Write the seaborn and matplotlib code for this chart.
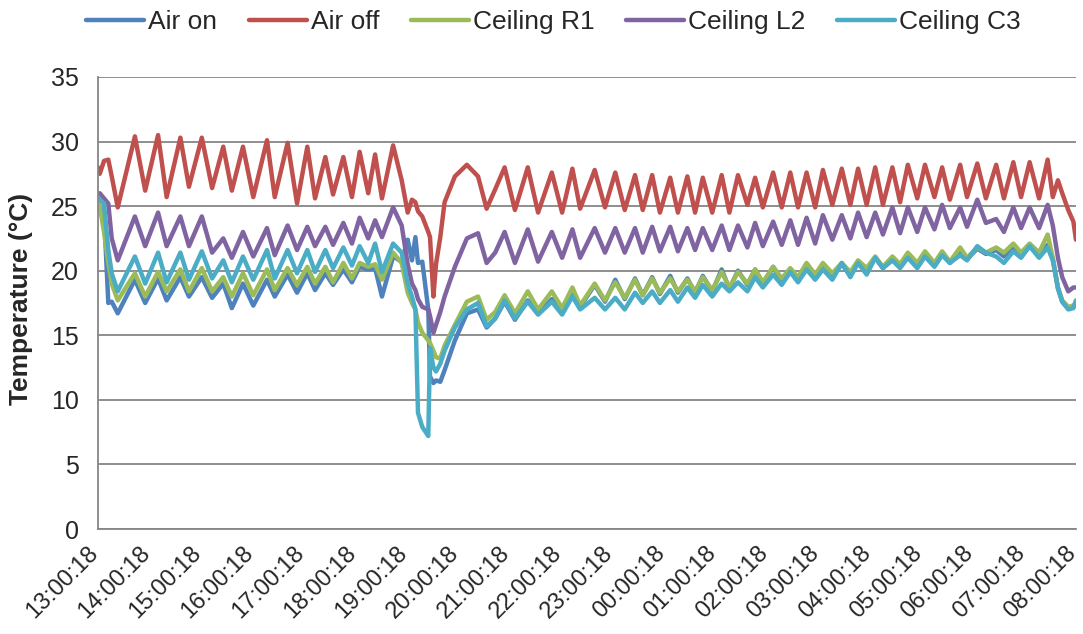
import pandas as pd
import matplotlib
matplotlib.use("Agg")
import matplotlib.pyplot as plt
import matplotlib.dates as mdates
import matplotlib.transforms as mtrans
import seaborn as sns

sns.set_style("white")
plt.rcParams['font.family'] = ['Liberation Sans', 'DejaVu Sans']

# minutes after 13:00:18 (shared by all loggers)
minutes = [0, 2, 7, 12, 16, 23, 43, 55, 70, 80,
           96, 106, 121, 133, 146, 156, 169, 181, 197, 206,
           221, 232, 244, 253, 265, 274, 286, 296, 305, 315,
           323, 331, 344, 354, 361, 366, 370, 373, 378, 385,
           387, 391, 394, 399, 404, 416, 430, 443, 453, 463,
           474, 486, 501, 513, 529, 541, 553, 562, 579, 591,
           603, 614, 626, 635, 646, 655, 667, 676, 687, 696,
           705, 716, 727, 736, 746, 757, 766, 775, 787, 797,
           807, 816, 826, 836, 845, 856, 867, 877, 886, 896,
           906, 915, 926, 935, 944, 955, 964, 975, 984, 993,
           1005, 1013, 1025, 1035, 1047, 1056, 1067, 1076, 1086, 1097,
           1107, 1113, 1119, 1124, 1131, 1137, 1140]

air_on = [24.7, 25.0, 24.5, 17.5, 17.6, 16.7, 19.3, 17.5, 19.4, 17.7,
          19.5, 18.0, 19.5, 17.9, 19.0, 17.1, 19.0, 17.3, 19.3, 18.0,
          19.7, 18.3, 19.8, 18.5, 19.8, 18.9, 20.1, 19.1, 20.3, 20.1,
          20.2, 18.0, 21.1, 20.7, 22.4, 20.8, 22.6, 20.6, 20.7, 17.0,
          11.8, 11.3, 11.5, 11.4, 12.3, 14.6, 16.7, 17.0, 15.6, 16.3,
          17.6, 16.2, 17.7, 16.7, 17.8, 16.8, 18.4, 17.2, 18.9, 17.6,
          19.3, 17.8, 19.4, 18.1, 19.5, 18.2, 19.6, 18.3, 19.4, 18.3,
          19.6, 18.4, 20.1, 18.6, 20.0, 18.9, 20.1, 19.0, 20.3, 19.2,
          20.1, 19.3, 20.4, 19.5, 20.5, 19.6, 20.5, 19.7, 20.7, 20.0,
          21.0, 20.2, 21.0, 20.3, 21.2, 20.4, 21.3, 20.5, 21.4, 20.6,
          21.6, 20.9, 21.7, 21.3, 21.6, 21.1, 21.8, 21.2, 21.9, 21.2,
          22.0, 20.9, 18.6, 17.6, 17.1, 17.2, 17.6]

air_off = [28.0, 27.5, 28.5, 28.6, 27.3, 24.9, 30.4, 26.2, 30.5, 25.7,
           30.3, 26.5, 30.3, 26.4, 29.6, 26.2, 29.6, 25.7, 30.1, 25.7,
           29.9, 25.2, 29.6, 25.6, 28.8, 25.9, 28.8, 25.7, 29.2, 26.0,
           29.0, 25.6, 29.7, 27.0, 24.5, 25.5, 25.3, 24.6, 24.2, 23.0,
           22.6, 18.0, 20.5, 22.6, 25.3, 27.3, 28.2, 27.3, 24.8, 26.3,
           28.0, 24.7, 28.0, 24.5, 27.6, 24.5, 27.9, 24.8, 27.8, 24.9,
           27.6, 24.7, 27.4, 24.7, 27.4, 24.5, 27.2, 24.5, 27.3, 24.5,
           27.2, 24.5, 27.4, 24.5, 27.4, 25.1, 27.2, 24.9, 27.6, 24.9,
           27.6, 24.9, 27.6, 24.9, 27.8, 25.1, 27.9, 25.1, 27.9, 25.1,
           28.0, 25.1, 28.0, 25.3, 28.2, 25.6, 28.2, 25.7, 28.0, 25.5,
           28.2, 25.7, 28.3, 25.6, 28.2, 25.6, 28.4, 25.7, 28.4, 25.6,
           28.6, 25.7, 27.0, 26.0, 24.7, 23.8, 22.4]

ceiling_r1 = [25.5, 25.0, 23.0, 20.6, 19.0, 17.7, 19.8, 18.0, 19.9, 18.4,
              20.1, 18.4, 20.2, 18.4, 19.5, 18.0, 19.8, 18.1, 20.1, 18.5,
              20.2, 18.9, 20.3, 19.0, 20.3, 19.1, 20.6, 19.4, 20.6, 20.3,
              20.5, 19.3, 21.4, 20.6, 18.3, 17.5, 17.0, 16.0, 15.2, 14.6,
              14.4, 13.8, 13.3, 13.2, 14.2, 15.8, 17.6, 18.0, 16.2, 16.8,
              18.1, 16.7, 18.4, 17.0, 18.4, 17.1, 18.7, 17.3, 19.0, 17.7,
              19.1, 17.9, 19.3, 18.1, 19.4, 18.3, 19.4, 18.4, 19.3, 18.4,
              19.5, 18.5, 19.9, 18.7, 19.9, 19.0, 20.1, 19.1, 20.3, 19.4,
              20.2, 19.5, 20.6, 19.7, 20.6, 19.8, 20.6, 19.9, 20.8, 20.2,
              21.1, 20.3, 21.1, 20.5, 21.4, 20.6, 21.5, 20.6, 21.5, 20.7,
              21.8, 21.0, 21.8, 21.4, 21.8, 21.4, 22.1, 21.4, 22.1, 21.4,
              22.8, 21.0, 18.7, 17.7, 17.2, 17.3, 17.5]

ceiling_l2 = [25.8, 26.0, 25.6, 25.2, 22.5, 20.8, 24.2, 21.9, 24.5, 21.9,
              24.2, 21.9, 24.2, 21.4, 22.5, 21.0, 23.0, 21.1, 23.3, 21.2,
              23.5, 21.6, 23.4, 21.9, 23.4, 22.0, 23.7, 22.1, 24.1, 22.5,
              23.9, 22.6, 24.9, 23.5, 20.5, 19.0, 18.5, 17.8, 17.2, 17.0,
              16.5, 15.2, 15.8, 16.8, 18.0, 20.3, 22.5, 22.9, 20.6, 21.4,
              23.0, 20.6, 23.2, 20.7, 23.0, 21.0, 23.2, 21.0, 23.3, 21.4,
              23.3, 21.4, 23.3, 21.4, 23.4, 21.5, 23.4, 21.5, 23.3, 21.6,
              23.3, 21.6, 23.5, 21.6, 23.5, 21.8, 23.7, 21.9, 23.8, 22.0,
              23.9, 22.0, 24.1, 22.1, 24.3, 22.4, 24.3, 22.5, 24.5, 22.6,
              24.5, 22.8, 24.9, 22.9, 24.9, 23.0, 24.9, 23.2, 25.1, 23.3,
              24.9, 23.4, 25.5, 23.7, 24.0, 23.0, 24.9, 23.3, 24.9, 23.3,
              25.1, 23.5, 21.0, 19.5, 18.4, 18.7, 18.7]

ceiling_c3 = [25.7, 25.5, 25.2, 21.6, 19.8, 18.4, 21.1, 19.0, 21.4, 19.1,
              21.4, 19.3, 21.5, 19.4, 20.8, 19.1, 21.1, 19.3, 21.6, 19.4,
              21.6, 19.8, 21.6, 19.9, 21.6, 20.2, 21.8, 20.4, 21.9, 20.6,
              22.1, 19.9, 22.1, 21.4, 19.0, 18.0, 17.0, 9.0, 7.9, 7.2,
              14.0, 12.5, 12.2, 12.8, 13.8, 15.6, 17.0, 17.5, 15.7, 16.3,
              17.7, 16.3, 17.6, 16.6, 17.6, 16.6, 18.0, 17.0, 17.9, 17.0,
              17.9, 17.0, 18.3, 17.5, 18.4, 17.5, 18.5, 17.6, 18.7, 17.9,
              18.9, 18.0, 19.0, 18.4, 19.1, 18.4, 19.5, 18.7, 19.7, 18.9,
              19.9, 19.1, 20.1, 19.3, 20.1, 19.3, 20.6, 19.5, 20.6, 19.7,
              21.0, 20.2, 20.8, 20.2, 21.0, 20.2, 21.1, 20.3, 21.2, 20.6,
              21.2, 20.8, 21.9, 21.4, 21.1, 20.6, 21.5, 21.0, 21.9, 21.0,
              21.8, 20.8, 18.7, 17.6, 17.0, 17.1, 17.7]

series_names = ["Air on", "Air off", "Ceiling R1", "Ceiling L2", "Ceiling C3"]
colors = ["#4F81BD", "#C0504D", "#9BBB59", "#8064A2", "#4BACC6"]

start = pd.Timestamp("2013-06-01 13:00:18")
times = start + pd.to_timedelta(minutes, unit="min")

frames = []
for name, vals in zip(series_names, [air_on, air_off, ceiling_r1, ceiling_l2, ceiling_c3]):
    frames.append(pd.DataFrame({"time": times, "temp": vals, "sensor": name}))
df = pd.concat(frames, ignore_index=True)

fig = plt.figure(figsize=(10.83, 6.34), dpi=100)
ax = fig.add_axes([0.0905, 0.1656, 0.903, 0.713])

sns.lineplot(data=df, x="time", y="temp", hue="sensor", hue_order=series_names,
             palette=colors, estimator=None, linewidth=3.2, ax=ax)

ax.set_ylim(0, 35)
ax.set_yticks(range(0, 36, 5))
ax.set_xlim(start, start + pd.Timedelta(hours=19))
ax.set_xticks(pd.date_range(start, periods=20, freq="h"))
ax.xaxis.set_major_formatter(mdates.DateFormatter("%H:%M:%S"))

ax.grid(axis="y", color="#868686", linewidth=1.3)
ax.grid(axis="x", visible=False)
for side in ["top", "right"]:
    ax.spines[side].set_visible(False)
for side in ["left", "bottom"]:
    ax.spines[side].set_color("#868686")
    ax.spines[side].set_linewidth(1.3)

ax.tick_params(axis="both", which="major", direction="out", length=6,
               width=1.3, color="#868686")
ax.tick_params(axis="y", labelsize=18, pad=8)
ax.tick_params(axis="x", labelsize=17, pad=9)
shift = mtrans.ScaledTranslation(-2 / 72, 0, fig.dpi_scale_trans)
for lab in ax.get_xticklabels():
    lab.set_rotation(45)
    lab.set_ha("right")
    lab.set_va("center")
    lab.set_rotation_mode("anchor")
    lab.set_transform(lab.get_transform() + shift)

ax.set_xlabel("")
ax.set_ylabel("Temperature (°C)", fontsize=19, fontweight="bold")
ax.yaxis.set_label_coords(-0.066, 0.51)

ax.legend(loc="center", bbox_to_anchor=(0.511, 0.965), bbox_transform=fig.transFigure,
          ncol=5, frameon=False, fontsize=19, handlelength=2.2, handletextpad=0.15,
          columnspacing=1.2)

fig.savefig("out.png", dpi=100)
